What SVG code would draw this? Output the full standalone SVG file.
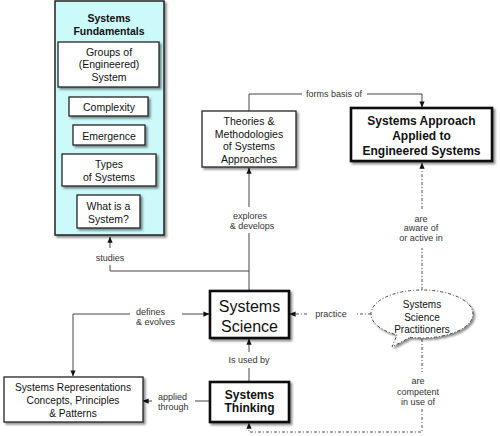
<svg xmlns="http://www.w3.org/2000/svg" width="500" height="436" viewBox="0 0 500 436">
<style>
text{font-family:"Liberation Sans",Arial,sans-serif;text-anchor:middle;fill:#111}
.lbl{font-size:9px;fill:#333}
.lbl-l{font-size:9px;fill:#333;text-anchor:start}
.box{fill:#fff;stroke:#222;stroke-width:1.3}
.thick{fill:#fff;stroke:#111;stroke-width:2.6}
.in{font-size:10.5px}
.con{fill:none;stroke:#444;stroke-width:1}
.dd{fill:none;stroke:#555;stroke-width:1;stroke-dasharray:3 2 1 2}
</style>
<defs>
<filter id="sh" x="-10%" y="-10%" width="130%" height="140%">
<feDropShadow dx="2" dy="2" stdDeviation="1.2" flood-color="#000" flood-opacity="0.45"/>
</filter>
<marker id="ah" viewBox="0 0 8 8" refX="7.5" refY="4" markerWidth="6" markerHeight="6" orient="auto" markerUnits="userSpaceOnUse">
<path d="M0,0.5 L8,4 L0,7.5 Z" fill="#111"/>
</marker>
</defs>

<g id="connectors">
<!-- studies -->
<polyline class="con" points="249,271 110,271 110,265"/>
<line class="con" x1="110" y1="248" x2="110" y2="237" marker-end="url(#ah)"/>
<text class="lbl" x="110" y="261">studies</text>
<!-- explores & develops -->
<line class="con" x1="249" y1="291" x2="249" y2="233"/>
<line class="con" x1="249" y1="207" x2="249" y2="168" marker-end="url(#ah)"/>
<text class="lbl" x="250" y="219">explores</text>
<text class="lbl" x="252" y="229">&amp; develops</text>
<!-- forms basis of -->
<polyline class="con" points="249,111 249,94 302,94"/>
<polyline class="con" points="367,94 422,94 422,107" marker-end="url(#ah)"/>
<text class="lbl" x="334" y="97">forms basis of</text>
<!-- aware of -->
<line class="dd" x1="422" y1="290" x2="422" y2="248"/>
<line class="dd" x1="422" y1="209" x2="422" y2="163" marker-end="url(#ah)"/>
<text class="lbl" x="421" y="222">are</text>
<text class="lbl" x="421" y="231">aware of</text>
<text class="lbl" x="421" y="241">or active in</text>
<!-- defines & evolves -->
<line class="con" x1="182" y1="314" x2="209" y2="314" marker-end="url(#ah)"/>
<polyline class="con" points="130,314 73,314 73,376" marker-end="url(#ah)"/>
<text class="lbl-l" x="136" y="315">defines</text>
<text class="lbl-l" x="136" y="325">&amp; evolves</text>
<!-- is used by -->
<line class="con" x1="249" y1="381" x2="249" y2="368"/>
<line class="con" x1="249" y1="352" x2="249" y2="339" marker-end="url(#ah)"/>
<text class="lbl" x="249" y="363">Is used by</text>
<!-- applied through -->
<line class="con" x1="209" y1="401" x2="195" y2="401"/>
<line class="con" x1="152" y1="401" x2="143" y2="401" marker-end="url(#ah)"/>
<text class="lbl-l" x="158" y="400">applied</text>
<text class="lbl-l" x="158" y="410">through</text>
<!-- practice -->
<line class="dd" x1="371" y1="314" x2="356" y2="314"/>
<line class="dd" x1="307" y1="314" x2="290" y2="314" marker-end="url(#ah)"/>
<text class="lbl" x="331" y="317">practice</text>
<!-- competent -->
<line class="dd" x1="422" y1="339" x2="422" y2="372"/>
<polyline class="dd" points="422,409 422,432 249,432 249,423" marker-end="url(#ah)"/>
<text class="lbl" x="418" y="384">are</text>
<text class="lbl" x="418" y="395">competent</text>
<text class="lbl" x="418" y="405">in use of</text>
</g>

<g id="systems-fundamentals">
<rect x="55" y="1" width="109" height="234" fill="#ccfafa" stroke="#222" stroke-width="1.5" filter="url(#sh)"/>
<text x="109" y="22" font-size="10.5" font-weight="bold">Systems</text>
<text x="109" y="35" font-size="10.5" font-weight="bold">Fundamentals</text>
</g>
<g id="groups">
<rect class="box" x="58" y="42" width="101" height="45" filter="url(#sh)"/>
<text class="in" x="109" y="56">Groups of</text>
<text class="in" x="109" y="68">(Engineered)</text>
<text class="in" x="109" y="81">System</text>
</g>
<g id="complexity">
<rect class="box" x="69" y="97" width="79" height="19" filter="url(#sh)"/>
<text class="in" x="109" y="111">Complexity</text>
</g>
<g id="emergence">
<rect class="box" x="73" y="125" width="72" height="20" filter="url(#sh)"/>
<text class="in" x="109" y="139.5">Emergence</text>
</g>
<g id="types">
<rect class="box" x="62" y="154" width="94" height="32" filter="url(#sh)"/>
<text class="in" x="109" y="168">Types</text>
<text class="in" x="109" y="180.5">of Systems</text>
</g>
<g id="what-is">
<rect class="box" x="77" y="195" width="63" height="33" filter="url(#sh)"/>
<text class="in" x="108.5" y="210">What is a</text>
<text class="in" x="108.5" y="222.5">System?</text>
</g>

<g id="theories">
<rect class="box" x="202" y="111" width="94" height="56" filter="url(#sh)"/>
<text class="in" x="249" y="125">Theories &amp;</text>
<text class="in" x="249" y="137.5">Methodologies</text>
<text class="in" x="249" y="150">of Systems</text>
<text class="in" x="249" y="162.5">Approaches</text>
</g>

<g id="systems-approach">
<rect class="thick" x="351" y="108" width="141" height="53" filter="url(#sh)"/>
<text x="421.5" y="125" font-size="12" font-weight="bold">Systems Approach</text>
<text x="421.5" y="140" font-size="12" font-weight="bold">Applied to</text>
<text x="421.5" y="155" font-size="12" font-weight="bold">Engineered Systems</text>
</g>

<g id="systems-science">
<rect class="thick" x="210" y="291" width="79" height="47" filter="url(#sh)"/>
<text x="249.5" y="311.5" font-size="16">Systems</text>
<text x="249.5" y="331.5" font-size="16">Science</text>
</g>

<g id="systems-thinking">
<rect class="thick" x="210" y="382" width="79" height="40" filter="url(#sh)"/>
<text x="249.5" y="398.5" font-size="12" font-weight="bold">Systems</text>
<text x="249.5" y="412" font-size="12" font-weight="bold">Thinking</text>
</g>

<g id="representations">
<rect class="box" x="4" y="377" width="139" height="45" filter="url(#sh)"/>
<text x="73" y="390.5" font-size="10.2">Systems Representations</text>
<text x="73" y="404" font-size="10.2">Concepts, Principles</text>
<text x="73" y="417" font-size="10.2">&amp; Patterns</text>
</g>

<g id="practitioners">
<path d="M410,337.3 A51 24 0 1 0 397,334.9 L392,347 Z" fill="#fff" stroke="#444" stroke-width="1" stroke-dasharray="3 2 1 2" filter="url(#sh)"/>
<text x="422" y="308" font-size="10">Systems</text>
<text x="422" y="320.5" font-size="10">Science</text>
<text x="422" y="333" font-size="10">Practitioners</text>
</g>
</svg>
